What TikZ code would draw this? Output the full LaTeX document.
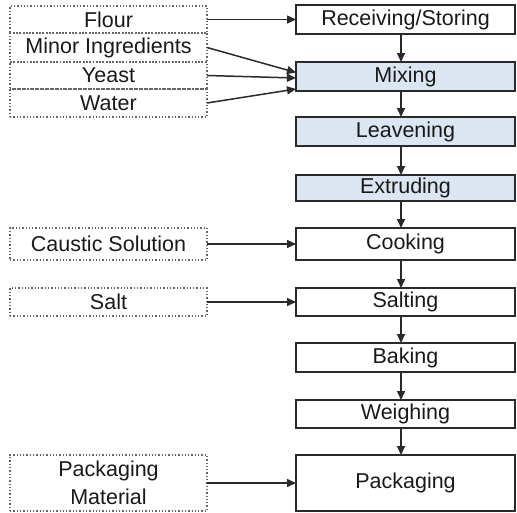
\documentclass[tikz,border=0pt]{standalone}
\usepackage{fontspec}
\setmainfont{Liberation Sans}
\usetikzlibrary{arrows.meta}
\definecolor{stepfill}{HTML}{DCE6F2}
\definecolor{edge}{HTML}{2A2A2A}
\begin{document}
\begin{tikzpicture}[x=1pt,y=-1pt,
  every node/.style={font=\fontsize{21.5}{28}\selectfont, text=black!90},
  stepbox/.style={draw=edge, line width=1.5pt, rectangle, anchor=north west,
    inner sep=0pt, outer sep=0pt, minimum width=219pt, align=center},
  hilite/.style={stepbox, fill=stepfill},
  inbox/.style={draw=black!60, dotted, line width=1.3pt, rectangle, anchor=north west,
    inner sep=0pt, outer sep=0pt, minimum width=197pt, align=center},
  arr/.style={-{Triangle[length=9pt,width=8pt]}, line width=1.5pt, draw=edge}]
\useasboundingbox (0,0) rectangle (517,512);

% process steps
\node[stepbox, minimum height=29pt] (recv) at (296,5) {Receiving/Storing};
\node[hilite,  minimum height=29pt] (mix)  at (296,62) {Mixing};
\node[hilite,  minimum height=29pt] (leav) at (296,117) {Leavening};
\node[hilite,  minimum height=26pt] (extr) at (296,175) {Extruding};
\node[stepbox, minimum height=32pt] (cook) at (296,228) {Cooking};
\node[stepbox, minimum height=28pt] (salt) at (296,288) {Salting};
\node[stepbox, minimum height=29pt] (bake) at (296,343) {Baking};
\node[stepbox, minimum height=28pt] (weigh) at (296,400) {Weighing};
\node[stepbox, minimum height=56pt] (pack) at (296,455) {Packaging};

% inputs
\node[inbox, minimum height=27pt] (flour) at (10,6) {Flour};
\node[inbox, minimum height=29pt] (minor) at (10,33) {Minor Ingredients};
\node[inbox, minimum height=27pt] (yeast) at (10,62) {Yeast};
\node[inbox, minimum height=28pt] (water) at (10,89) {Water};
\node[inbox, minimum height=32pt] (caustic) at (10,228) {Caustic Solution};
\node[inbox, minimum height=28pt] (saltin) at (10,288) {Salt};
\node[inbox, minimum height=56pt] (packmat) at (10,455) {Packaging\\Material};

% flow down the process column
\foreach \a/\b in {recv/mix, mix/leav, leav/extr, extr/cook, cook/salt, salt/bake, bake/weigh, weigh/pack}
  \draw[arr] ([xshift=-4.5pt]\a.south) -- ([xshift=-4.5pt]\b.north);

% inputs into the process
\draw[arr] (flour.east) -- (flour.east -| recv.west);
\draw[arr] (minor.east) -- ([yshift=4pt]mix.west);
\draw[arr] (yeast.east) -- ([yshift=-1.5pt]mix.west);
\draw[arr] (water.east) -- ([yshift=-12.5pt]mix.west);
\draw[arr] (caustic.east) -- (cook.west);
\draw[arr] (saltin.east) -- (salt.west);
\draw[arr] (packmat.east) -- (pack.west);
\end{tikzpicture}
\end{document}
